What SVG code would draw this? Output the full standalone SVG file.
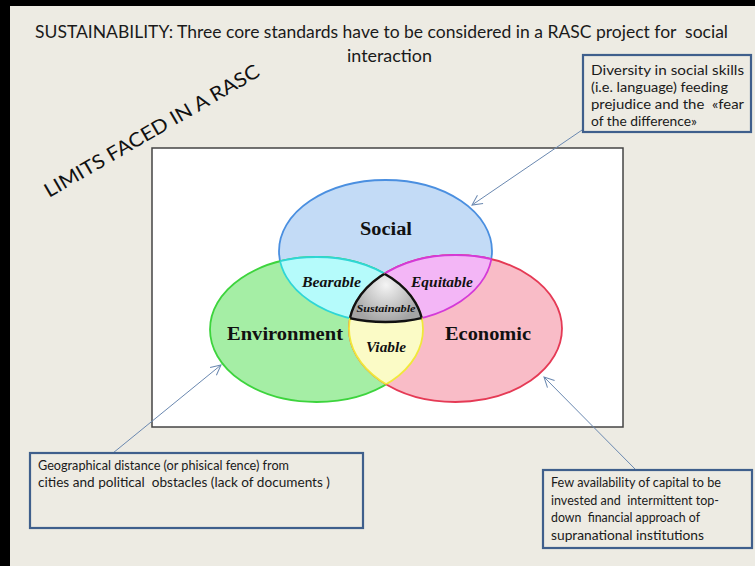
<svg xmlns="http://www.w3.org/2000/svg" width="755" height="566" viewBox="0 0 755 566">
  <style>
    text { white-space: pre; }
    .title { font-family: Lato, "Liberation Sans", sans-serif; font-size: 17px; fill: #1a1a1a; }
    .note { font-family: Lato, "Liberation Sans", sans-serif; font-size: 13.5px; fill: #1a1a1a; }
    .box { fill: #edebe3; stroke: #3f5f8c; stroke-width: 2.2; }
    .big { font-family: "Liberation Serif", "DejaVu Serif", serif; font-weight: bold; font-size: 18px; fill: #111; text-anchor: middle; }
    .mid { font-family: "Liberation Serif", "DejaVu Serif", serif; font-weight: bold; font-style: italic; font-size: 14px; fill: #111; text-anchor: middle; }
    .small { font-family: "Liberation Serif", "DejaVu Serif", serif; font-weight: bold; font-style: italic; font-size: 11px; fill: #111; text-anchor: middle; }
    .conn { stroke: #6a88b0; stroke-width: 1; fill: none; marker-end: url(#arrow); }
  </style>
  <defs>
    <marker id="arrow" viewBox="0 0 12 12" refX="11" refY="6" markerWidth="12" markerHeight="12" markerUnits="userSpaceOnUse" orient="auto">
      <path d="M1,1 L11,6 L1,11" fill="none" stroke="#6a88b0" stroke-width="1"/>
    </marker>
    <clipPath id="clipSoc"><ellipse cx="385.5" cy="251" rx="106.5" ry="71"/></clipPath>
    <clipPath id="clipEnv"><ellipse cx="316.5" cy="329.5" rx="106.5" ry="72.5"/></clipPath>
    <clipPath id="clipEco"><ellipse cx="455.5" cy="328.5" rx="106.5" ry="73.5"/></clipPath>
    <radialGradient id="grey" cx="386" cy="285" r="38" gradientUnits="userSpaceOnUse">
      <stop offset="0" stop-color="#f4f4f4"/>
      <stop offset="1" stop-color="#a4a4a4"/>
    </radialGradient>
  </defs>

  <!-- slide background with dark frame on the top and left -->
  <rect x="0" y="0" width="755" height="566" fill="#edebe3"/>
  <rect x="0" y="0" width="755" height="6" fill="#000"/>
  <rect x="0" y="0" width="10" height="566" fill="#000"/>

  <!-- heading -->
  <g id="title">
    <text class="title" x="35" y="38" textLength="693" lengthAdjust="spacingAndGlyphs">SUSTAINABILITY: Three core standards have to be considered in a RASC project for  social</text>
    <text class="title" x="347" y="62" textLength="85" lengthAdjust="spacingAndGlyphs">interaction</text>
  </g>
  <g id="limits">
    <text transform="translate(49,198) rotate(-30)" font-family="Lato, 'Liberation Sans', sans-serif" font-size="19.5" fill="#111" textLength="245" lengthAdjust="spacingAndGlyphs">LIMITS FACED IN A RASC</text>
  </g>

  <!-- Venn picture -->
  <g id="venn">
    <rect x="152" y="148" width="471" height="279" fill="#fff" stroke="#444" stroke-width="1.5"/>
    <g id="social">
      <ellipse cx="385.5" cy="251" rx="106.5" ry="71" fill="#c3dbf6" stroke="#4a8fe0" stroke-width="1.8"/>
    </g>
    <g id="environment">
      <ellipse cx="316.5" cy="329.5" rx="106.5" ry="72.5" fill="#a5eea5" stroke="#3dd43d" stroke-width="1.8"/>
    </g>
    <g id="economic">
      <ellipse cx="455.5" cy="328.5" rx="106.5" ry="73.5" fill="#f9bcc7" stroke="#e53a55" stroke-width="1.8"/>
    </g>
    <g id="bearable">
      <ellipse clip-path="url(#clipEnv)" cx="385.5" cy="251" rx="106.5" ry="71" fill="#b5fbfb" stroke="#2fd6d6" stroke-width="1.8"/>
      <ellipse clip-path="url(#clipSoc)" cx="316.5" cy="329.5" rx="106.5" ry="72.5" fill="none" stroke="#2fd6d6" stroke-width="1.8"/>
    </g>
    <g id="equitable">
      <ellipse clip-path="url(#clipEco)" cx="385.5" cy="251" rx="106.5" ry="71" fill="#f3b6f6" stroke="#d43ad8" stroke-width="1.8"/>
      <ellipse clip-path="url(#clipSoc)" cx="455.5" cy="328.5" rx="106.5" ry="73.5" fill="none" stroke="#d43ad8" stroke-width="1.8"/>
    </g>
    <g id="viable">
      <ellipse clip-path="url(#clipEco)" cx="316.5" cy="329.5" rx="106.5" ry="72.5" fill="#fbfbc6" stroke="#f0e83a" stroke-width="1.8"/>
      <ellipse clip-path="url(#clipEnv)" cx="455.5" cy="328.5" rx="106.5" ry="73.5" fill="none" stroke="#f0e83a" stroke-width="1.8"/>
    </g>
    <g id="sustainable">
      <g clip-path="url(#clipEnv)">
        <ellipse clip-path="url(#clipEco)" cx="385.5" cy="251" rx="106.5" ry="71" fill="url(#grey)" stroke="#111" stroke-width="2.4"/>
      </g>
      <g clip-path="url(#clipSoc)">
        <ellipse clip-path="url(#clipEco)" cx="316.5" cy="329.5" rx="106.5" ry="72.5" fill="none" stroke="#111" stroke-width="2.4"/>
        <ellipse clip-path="url(#clipEnv)" cx="455.5" cy="328.5" rx="106.5" ry="73.5" fill="none" stroke="#111" stroke-width="2.4"/>
      </g>
    </g>
    <text class="big" x="386" y="235" textLength="52" lengthAdjust="spacingAndGlyphs">Social</text>
    <text class="big" x="285" y="340" textLength="116" lengthAdjust="spacingAndGlyphs">Environment</text>
    <text class="big" x="488" y="340" textLength="86" lengthAdjust="spacingAndGlyphs">Economic</text>
    <text class="mid" x="331.5" y="287" textLength="59" lengthAdjust="spacingAndGlyphs">Bearable</text>
    <text class="mid" x="442" y="287" textLength="62" lengthAdjust="spacingAndGlyphs">Equitable</text>
    <text class="small" x="386" y="312" textLength="59" lengthAdjust="spacingAndGlyphs">Sustainable</text>
    <text class="mid" x="386" y="352" textLength="40" lengthAdjust="spacingAndGlyphs">Viable</text>
  </g>

  <!-- connectors -->
  <g id="connectors">
    <line class="conn" x1="585" y1="128" x2="472" y2="205"/>
    <line class="conn" x1="113" y1="453" x2="221" y2="365"/>
    <line class="conn" x1="636" y1="470" x2="544" y2="377"/>
  </g>

  <!-- notes -->
  <g id="note-social">
    <rect class="box" x="583" y="55" width="168" height="77"/>
    <text class="note" x="591" y="75" textLength="153" lengthAdjust="spacingAndGlyphs">Diversity in social skills</text>
    <text class="note" x="591" y="92" textLength="137" lengthAdjust="spacingAndGlyphs">(i.e. language) feeding</text>
    <text class="note" x="591" y="109" textLength="153" lengthAdjust="spacingAndGlyphs">prejudice and the  «fear</text>
    <text class="note" x="591" y="126" textLength="106" lengthAdjust="spacingAndGlyphs">of the difference»</text>
  </g>
  <g id="note-environment">
    <rect class="box" x="30" y="453" width="333" height="75"/>
    <text class="note" x="38" y="470" textLength="251" lengthAdjust="spacingAndGlyphs">Geographical distance (or phisical fence) from</text>
    <text class="note" x="38" y="487" textLength="292" lengthAdjust="spacingAndGlyphs">cities and political  obstacles (lack of documents )</text>
  </g>
  <g id="note-economic">
    <rect class="box" x="543" y="470" width="209" height="78"/>
    <text class="note" x="551" y="487" textLength="170" lengthAdjust="spacingAndGlyphs">Few availability of capital to be</text>
    <text class="note" x="551" y="505" textLength="168" lengthAdjust="spacingAndGlyphs">invested and  intermittent top-</text>
    <text class="note" x="551" y="522" textLength="149" lengthAdjust="spacingAndGlyphs">down  financial approach of</text>
    <text class="note" x="551" y="540" textLength="153" lengthAdjust="spacingAndGlyphs">supranational institutions</text>
  </g>
</svg>
